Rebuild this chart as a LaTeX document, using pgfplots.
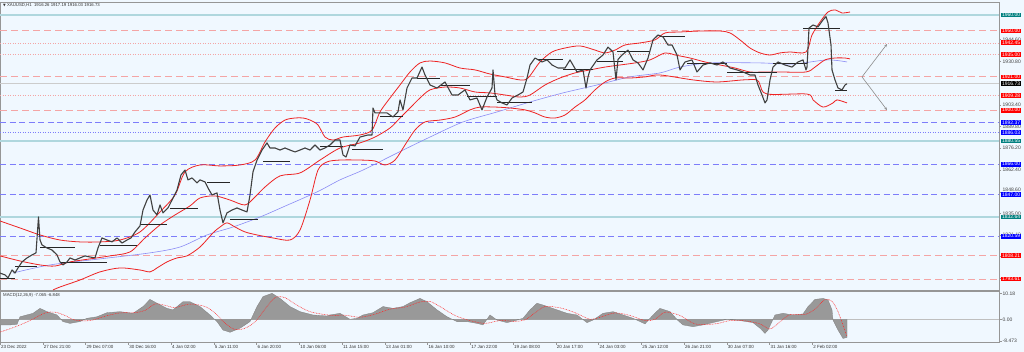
\documentclass[border=0pt]{standalone}
\usepackage{fontspec}
\setmainfont{Liberation Sans}
\newfontfamily\dejavu{DejaVu Sans}
\usepackage{pgfplots}
\pgfplotsset{compat=1.18}
\usetikzlibrary{arrows.meta}
\definecolor{bg}{RGB}{240,248,255}
\definecolor{lvred}{RGB}{244,165,165}
\definecolor{lvblue}{RGB}{125,125,250}
\definecolor{lvteal}{RGB}{175,215,222}
\definecolor{bbred}{RGB}{238,35,35}
\definecolor{maBlue}{RGB}{140,140,245}
\definecolor{boxred}{RGB}{255,0,0}
\definecolor{boxblue}{RGB}{0,0,255}
\definecolor{boxteal}{RGB}{0,128,128}
\definecolor{frame}{RGB}{150,150,150}
\pgfplotsset{
  lvdash/.style={lvred, line width=0.9pt, dash pattern=on 7pt off 4pt},
  lvdot/.style={lvred, line width=0.6pt, dash pattern=on 1pt off 1.5pt},
  lbdash/.style={lvblue, line width=0.8pt, dash pattern=on 6pt off 3.5pt},
  lbdot/.style={lvblue, line width=0.6pt, dash pattern=on 1pt off 1.5pt},
  ltsolid/.style={lvteal, line width=1.4pt},
}
\tikzset{
  rbox/.style={fill=#1, text=white, anchor=west, inner xsep=0.8pt, inner ysep=0.6pt, font=\fontsize{5}{5}\selectfont},
  gtick/.style={text=black!75, anchor=west, inner sep=0.5pt, font=\fontsize{5}{5}\selectfont},
}
\begin{document}
\begin{tikzpicture}
\fill[bg] (0,0) rectangle (1024pt,-352pt);
\useasboundingbox (0,0) rectangle (1024pt,-352pt);
\begin{axis}[at={(0pt,-2pt)}, anchor=north west, width=999pt, height=288pt, scale only axis,
  xmin=0, xmax=999, ymin=1786.7, ymax=1968.2, clip=false,
  axis line style={frame, line width=0.8pt}, xtick=\empty,
  ytick={1944.6,1930.8,1903.4,1889.8,1876.2,1862.4,1848.6,1835.0,1821.4,1807.8,1794.0},
  yticklabels={}, ytick pos=right, tick align=outside, major tick length=2pt,
  tick style={frame}, unbounded coords=jump]
% level lines
\addplot[ltsolid] coordinates {(0,1960) (999,1960)};
\addplot[lvdash] coordinates {(0,1950) (999,1950)};
\addplot[lvdot] coordinates {(0,1942.45) (999,1942.45)};
\addplot[lvdot] coordinates {(0,1935) (999,1935)};
\addplot[lvdash] coordinates {(0,1921) (999,1921)};
\addplot[black!20, line width=0.5pt] coordinates {(0,1916.73) (999,1916.73)};
\addplot[lvdot] coordinates {(0,1909.28) (999,1909.28)};
\addplot[lvdash] coordinates {(0,1900) (999,1900)};
\addplot[lbdash] coordinates {(0,1892.37) (999,1892.37)};
\addplot[lbdot] coordinates {(0,1886.03) (999,1886.03)};
\addplot[ltsolid] coordinates {(0,1880.55) (999,1880.55)};
\addplot[lbdash] coordinates {(0,1866) (999,1866)};
\addplot[lbdash] coordinates {(0,1847) (999,1847)};
\addplot[ltsolid] coordinates {(0,1832.64) (999,1832.64)};
\addplot[lbdash] coordinates {(0,1820.59) (999,1820.59)};
\addplot[lvdash] coordinates {(0,1808.21) (999,1808.21)};
\addplot[lvdash] coordinates {(0,1793.61) (999,1793.61)};
% long moving average
\addplot[maBlue, line width=0.6pt, smooth] coordinates {
(13,1797.4) (50,1802.5) (100,1806.3) (150,1810.1) (180,1813.8) (207,1821.4) (233,1826.4) (260,1832.7)
(283,1839.0) (317,1848.5) (340,1856.1) (363,1862.3) (397,1873.0) (430,1883.1) (463,1892.6) (497,1898.9)
(530,1905.2) (563,1910.9) (597,1915.9) (630,1921.0) (660,1923.5) (680,1927.2) (710,1929.8) (760,1929.8)
(793,1929.1) (827,1931.7) (847,1930.4)};
% Bollinger upper
\addplot[bbred, line width=0.8pt, smooth] coordinates {
(0,1830.2) (20,1825.8) (40,1821.4) (60,1818.2) (80,1817.0) (100,1817.0) (120,1818.2) (140,1823.3)
(160,1835.9) (175,1846.6) (185,1861.1) (200,1865.5) (220,1864.9) (240,1865.5) (255,1868.6) (265,1880.0)
(275,1888.8) (285,1893.8) (295,1895.1) (303,1895.1) (310,1893.8) (318,1890.7) (325,1883.1) (333,1881.2)
(343,1883.1) (360,1884.4) (372,1887.5) (380,1898.9) (390,1907.7) (400,1915.9) (410,1924.1) (420,1929.8)
(430,1931.0) (445,1929.8) (460,1926.6) (475,1925.4) (490,1922.8) (505,1921.0) (520,1919.1) (528,1920.3)
(540,1930.4) (552,1936.7) (565,1939.2) (580,1940.5) (595,1937.9) (605,1936.1) (615,1937.9) (625,1941.1)
(640,1942.4) (655,1944.3) (665,1948.7) (680,1949.3) (700,1949.9) (720,1949.9) (730,1948.7) (740,1944.3)
(750,1939.2) (760,1936.1) (770,1934.8) (780,1936.1) (790,1936.7) (806,1936.7) (812,1947.4) (820,1955.6)
(828,1961.9) (835,1963.2) (842,1961.3) (850,1961.9)};
% Bollinger middle
\addplot[bbred, line width=0.8pt, smooth] coordinates {
(0,1808.2) (20,1805.0) (40,1802.5) (55,1801.8) (70,1804.4) (90,1806.3) (110,1808.2) (130,1810.7)
(145,1819.5) (160,1827.7) (175,1834.0) (190,1839.7) (200,1844.7) (215,1846.0) (230,1843.4) (245,1840.3)
(255,1845.3) (265,1851.6) (280,1858.6) (300,1860.5) (320,1868.6) (340,1876.2) (360,1879.4) (375,1883.1)
(390,1888.8) (400,1895.1) (410,1901.4) (420,1907.7) (430,1912.8) (445,1914.6) (460,1914.0) (475,1911.5)
(490,1910.9) (505,1909.6) (520,1908.3) (530,1909.6) (545,1915.9) (560,1920.3) (575,1923.5) (590,1925.4)
(605,1927.2) (620,1928.5) (635,1929.8) (650,1931.7) (665,1936.1) (675,1934.8) (690,1932.9) (705,1930.4)
(720,1928.5) (735,1926.6) (750,1924.1) (765,1924.1) (780,1924.1) (806,1924.1) (815,1927.2) (825,1931.7)
(835,1932.9) (845,1932.9) (850,1932.3)};
% Bollinger lower
\addplot[bbred, line width=0.8pt, smooth] coordinates {
(53,1786.7) (60,1788.6) (80,1793.0) (100,1798.1) (120,1800.6) (140,1799.3) (150,1798.1) (157,1800.6)
(167,1804.4) (177,1806.9) (187,1808.2) (200,1813.8) (213,1822.7) (220,1826.4) (227,1829.0) (235,1826.4)
(245,1823.3) (257,1821.4) (273,1819.5) (290,1818.2) (300,1824.5) (310,1843.4) (318,1862.3) (327,1867.4)
(340,1868.6) (360,1868.6) (375,1868.0) (385,1865.5) (395,1868.6) (405,1878.1) (415,1887.5) (425,1892.6)
(440,1893.8) (455,1895.7) (470,1900.2) (480,1902.0) (495,1902.0) (510,1901.4) (525,1900.2) (535,1898.3)
(545,1895.7) (555,1895.1) (565,1897.0) (575,1902.0) (585,1906.5) (595,1912.8) (605,1917.8) (615,1920.3)
(630,1920.3) (645,1921.0) (660,1922.2) (693,1919.1) (717,1917.8) (743,1919.1) (757,1919.1) (760,1916.0)
(767,1910.2) (807,1910.2) (813,1906.5) (823,1902.0) (833,1904.6) (837,1906.5) (847,1904.6)};
% horizontal black segments
\addplot[black!85, line width=0.8pt] coordinates {
(0,1793.7) (15,1793.7) (15,nan) (15,1801.8) (37,1801.8) (37,nan)
(40,1813.8) (75,1813.8) (75,nan) (60,1804.4) (107,1804.4) (107,nan)
(100,1815.1) (137,1815.1) (137,nan) (140,1828.3) (167,1828.3) (167,nan)
(170,1838.4) (198,1838.4) (198,nan) (207,1854.8) (230,1854.8) (230,nan)
(230,1831.5) (258,1831.5) (258,nan) (263,1868.0) (290,1868.0) (290,nan)
(320,1877.5) (343,1877.5) (343,nan) (352,1875.6) (383,1875.6) (383,nan)
(380,1896.4) (403,1896.4) (403,nan) (417,1920.3) (440,1920.3) (440,nan)
(440,1915.9) (470,1915.9) (470,nan) (467,1909.0) (497,1909.0) (497,nan)
(497,1905.2) (532,1905.2) (532,nan) (537,1932.3) (563,1932.3) (563,nan)
(563,1926.0) (593,1926.0) (593,nan) (597,1931.0) (623,1931.0) (623,nan)
(617,1937.3) (650,1937.3) (650,nan) (660,1946.8) (685,1946.8) (685,nan)
(687,1929.8) (727,1929.8) (727,nan) (727,1924.1) (777,1924.1) (777,nan)
(773,1929.8) (807,1929.8) (807,nan) (803,1951.8) (840,1951.8) (840,nan)
(835,1912.8) (847,1912.8)};
% price path (close with wicks)
\addplot[black!75, line width=1.1pt, line join=round] coordinates {
(0,1797.4) (5,1796.2) (8,1794.3) (12,1799.3) (15,1797.4) (18,1800.6) (22,1804.4) (27,1806.9)
(32,1808.8) (36,1810.1) (38.5,1832.7) (40,1818.2) (42,1815.1) (47,1813.2) (52,1811.9) (57,1808.8)
(60,1804.4) (63,1802.5) (67,1804.4) (70,1806.9) (75,1805.6) (80,1806.9) (85,1808.2) (90,1807.5)
(95,1806.9) (98,1813.2) (102,1819.5) (107,1818.2) (112,1817.0) (117,1819.5) (122,1816.3) (127,1818.2)
(131,1819.5) (135,1823.3) (140,1827.1) (143,1837.1) (147,1843.4) (150,1846.6) (153,1837.1) (157,1834.0)
(160,1840.3) (163,1835.3) (168,1838.4) (172,1843.4) (177,1849.7) (181,1859.2) (185,1862.3) (188,1856.1)
(192,1857.3) (197,1854.2) (200,1856.1) (205,1854.8) (208,1851.0) (212,1846.6) (217,1847.9) (220,1837.1)
(223,1829.0) (227,1835.3) (232,1837.1) (237,1838.4) (242,1837.1) (247,1835.9) (250,1846.6) (253,1861.1)
(257,1868.6) (262,1874.9) (267,1879.4) (270,1876.2) (275,1876.2) (280,1874.9) (285,1876.2) (290,1874.9)
(295,1873.7) (300,1874.9) (305,1876.2) (310,1874.9) (315,1878.1) (320,1874.9) (325,1876.2) (330,1878.1)
(335,1881.2) (340,1881.2) (343,1871.8) (346,1870.5) (350,1878.1) (355,1877.5) (360,1883.1) (368,1884.4)
(372,1884.4) (373,1901.4) (375,1898.3) (380,1898.3) (387,1898.3) (393,1895.7) (398,1899.0) (400,1906.5)
(403,1900.2) (407,1914.0) (412,1920.3) (417,1920.3) (422,1927.2) (425,1922.2) (430,1915.9) (437,1914.0)
(445,1917.8) (452,1909.6) (458,1909.6) (465,1912.8) (470,1906.5) (477,1907.7) (482,1900.2) (487,1908.3)
(492,1914.0) (493,1925.4) (495,1910.0) (497,1906.5) (502,1904.6) (507,1903.3) (512,1907.7) (518,1909.6)
(523,1911.5) (527,1920.3) (530,1928.5) (535,1932.9) (542,1930.4) (547,1931.7) (552,1928.5) (558,1926.6)
(565,1926.6) (570,1931.7) (577,1924.1) (583,1925.4) (586,1914.0) (588,1921.0) (590,1925.4) (597,1931.7)
(603,1934.8) (608,1939.8) (613,1936.7) (616,1919.1) (618,1932.0) (622,1934.8) (628,1937.9) (633,1931.7)
(638,1929.8) (643,1925.4) (648,1932.9) (653,1944.3) (658,1947.4) (663,1946.2) (668,1941.1) (672,1941.1)
(677,1934.8) (680,1925.4) (685,1930.4) (692,1931.7) (697,1924.1) (703,1928.5) (710,1929.8) (717,1928.5)
(723,1930.4) (730,1926.6) (737,1925.4) (743,1924.1) (750,1922.2) (755,1922.2) (758,1915.9) (762,1909.6)
(765,1904.6) (767,1906.5) (770,1919.1) (773,1927.2) (778,1930.4) (785,1928.5) (792,1927.2) (798,1930.4)
(803,1931.7) (806,1925.4) (807,1927.2) (809,1951.8) (813,1953.7) (818,1952.5) (823,1956.9) (826,1959.0)
(828,1955.0) (831,1941.1) (832,1925.4) (835,1919.1) (838,1914.0) (842,1912.8) (845,1915.9) (847,1916.7)};
% projection arrows
\addplot[black!45, line width=0.6pt, -{Stealth[length=3pt,width=2.5pt]}] coordinates {(862,1921.0) (887,1941.7)};
\addplot[black!45, line width=0.6pt, -{Stealth[length=3pt,width=2.5pt]}] coordinates {(862,1921.0) (887,1900.1)};
% title
\node[anchor=west, inner sep=0pt, font=\fontsize{4.3}{5}\selectfont, text=black!80] at (axis cs:3,1966.2)
  {{\dejavu\fontsize{3.5}{4}\selectfont ▼}\ XAUUSD,H1\ \ 1916.26 1917.19 1916.03 1916.73};
% gray price scale
\node[gtick] at (axis cs:1002,1944.6) {1944.60};
\node[gtick] at (axis cs:1002,1930.8) {1930.80};
\node[gtick] at (axis cs:1002,1903.4) {1903.40};
\node[gtick] at (axis cs:1002,1889.8) {1889.80};
\node[gtick] at (axis cs:1002,1876.2) {1876.20};
\node[gtick] at (axis cs:1002,1862.4) {1862.40};
\node[gtick, yshift=2.2pt] at (axis cs:1002,1848.6) {1848.60};
\node[gtick] at (axis cs:1002,1835.0) {1835.00};
\node[gtick] at (axis cs:1002,1821.4) {1821.40};
% level labels
\node[rbox=boxteal] at (axis cs:1001,1960) {1960.00};
\node[rbox=boxred] at (axis cs:1001,1950) {1950.00};
\node[rbox=boxred] at (axis cs:1001,1942.45) {1942.45};
\node[rbox=boxred] at (axis cs:1001,1935) {1935.00};
\node[rbox=boxred] at (axis cs:1001,1921) {1921.00};
\node[rbox=black] at (axis cs:1001,1916.73) {1916.73};
\node[rbox=boxred] at (axis cs:1001,1909.28) {1909.28};
\node[rbox=boxred] at (axis cs:1001,1900) {1900.00};
\node[rbox=boxblue] at (axis cs:1001,1892.37) {1892.37};
\node[rbox=boxblue] at (axis cs:1001,1886.03) {1886.03};
\node[rbox=boxteal] at (axis cs:1001,1880.55) {1880.55};
\node[rbox=boxblue] at (axis cs:1001,1866) {1866.00};
\node[rbox=boxblue] at (axis cs:1001,1847) {1847.00};
\node[rbox=boxteal] at (axis cs:1001,1832.64) {1832.64};
\node[rbox=boxblue] at (axis cs:1001,1820.59) {1820.59};
\node[rbox=boxred] at (axis cs:1001,1808.21) {1808.21};
\node[rbox=boxred] at (axis cs:1001,1793.61) {1793.61};
\end{axis}

\begin{axis}[at={(0pt,-291pt)}, anchor=north west, width=999pt, height=51pt, scale only axis,
  xmin=0, xmax=999, ymin=-8.9, ymax=11.1, clip=false,
  axis line style={frame, line width=0.8pt},
  xtick={0,42.75,85.5,128.25,171,213.75,256.5,299.25,342,384.75,427.5,470.25,513,555.75,598.5,641.25,684,726.75,769.5,812.25},
  xticklabels={23 Dec 2022, 27 Dec 21:00, 29 Dec 07:00, 30 Dec 16:00, 4 Jan 02:00, 5 Jan 11:00, 6 Jan 20:00, 10 Jan 06:00, 11 Jan 15:00, 13 Jan 01:00, 16 Jan 10:00, 17 Jan 22:00, 19 Jan 08:00, 20 Jan 17:00, 24 Jan 03:00, 25 Jan 12:00, 26 Jan 21:00, 30 Jan 07:00, 31 Jan 16:00, 2 Feb 02:00},
  xticklabel style={anchor=north west, inner sep=0.5pt, font=\fontsize{4.5}{5}\selectfont, text=black!80, xshift=0.5pt},
  xtick pos=bottom, ytick={10.18,0,-8.473}, yticklabels={}, ytick pos=right,
  tick align=outside, major tick length=2.5pt, tick style={frame}]
\addplot[black!25, line width=0.4pt] coordinates {(0,0) (999,0)};
\addplot[fill=black!40, draw=black!50, line width=0.3pt] coordinates {
(0,0) (0,-2.2) (10,-2.2) (17,-2.0) (20,1.0) (33,2.35) (40,4.3) (47,3.0) (57,1.7) (63,-0.9) (70,-1.6)
(80,-0.9) (87,0.4) (97,1.0) (107,2.6) (120,3.0) (133,2.35) (143,5.0) (150,7.8) (157,6.3) (167,4.3)
(173,3.7) (183,6.9) (190,6.9) (200,5.0) (210,1.7) (217,-0.9) (223,-4.2) (230,-5.1) (240,-3.5) (250,-0.9)
(257,5.0) (263,8.9) (272,10.2) (280,8.2) (290,5.0) (300,3.0) (313,1.7) (327,1.3) (330,1.7) (340,2.35)
(350,0) (357,0.4) (363,1.7) (373,2.6) (383,5.0) (393,4.3) (403,5.0) (410,6.5) (420,8.2) (427,6.9)
(437,3.7) (447,1.0) (457,-0.9) (467,-0.9) (477,-1.6) (483,-2.2) (490,1.7) (497,-0.3) (507,-1.3) (517,-0.3)
(523,0.4) (530,3.7) (537,6.3) (543,5.6) (557,3.7) (567,2.35) (577,1.7) (587,-1.3) (593,-0.3) (603,2.35)
(613,3.0) (623,1.7) (633,0.4) (645,-1.8) (653,1.7) (660,4.3) (670,3.0) (678,-0.5) (683,-2.2) (693,-2.9)
(703,-2.2) (717,-0.9) (727,0) (740,-0.5) (753,-1.3) (760,-3.5) (765,-5.5) (768,-4.2) (775,1.7) (783,2.35)
(793,1.7) (803,2.1) (808,5.0) (815,7.8) (823,8.2) (828,7.6) (832,3.7) (833,-0.3) (838,-4.2) (843,-7.5)
(847,-7.1) (847,0)} -- cycle;
\addplot[red!85, line width=0.5pt, dash pattern=on 0.8pt off 0.8pt, smooth] coordinates {
(0,-5) (15,-3) (30,-0.5) (45,2.5) (55,2.8) (65,1.5) (75,-0.3) (90,-0.5) (105,1.2) (120,2.5) (135,2.6)
(145,3.5) (155,6) (165,5.5) (175,4.6) (190,6) (205,5) (215,2.5) (225,-1.5) (235,-4) (245,-3.5) (255,-1)
(265,4) (275,8.5) (285,8.5) (295,6) (310,3) (330,1.6) (345,1.6) (360,0.8) (375,2) (390,4) (405,4.8)
(420,6.8) (430,7) (440,5) (455,1.5) (470,-0.5) (485,-1.6) (500,-0.5) (515,-0.8) (525,-0.2) (535,2.5)
(545,5) (560,4.5) (575,2.6) (590,0) (600,0.8) (615,2.5) (630,1.5) (645,-0.5) (655,0) (665,2.8) (680,1.5)
(695,-1.8) (715,-1.8) (730,-0.5) (745,-0.6) (760,-1.8) (770,-3.8) (780,-1) (790,1.8) (805,1.9) (815,4)
(825,7.8) (832,7) (838,3) (847,-6.8)};
\node[anchor=west, inner sep=0pt, font=\fontsize{4.3}{5}\selectfont, text=black!80] at (axis cs:3,9.4)
  {MACD(12,26,9) -7.065 -6.848};
\node[gtick] at (axis cs:1002,10.18) {10.18};
\node[gtick] at (axis cs:1002,0) {0.00};
\node[gtick] at (axis cs:1002,-8.473) {-8.473};
\end{axis}
\end{tikzpicture}
\end{document}
